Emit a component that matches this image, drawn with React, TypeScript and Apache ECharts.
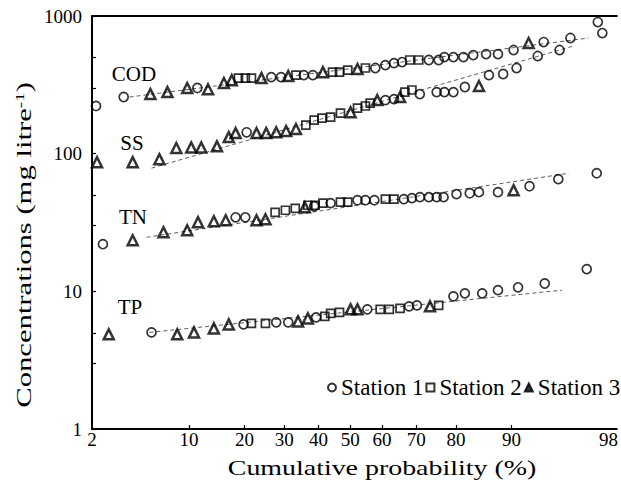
import React, { useEffect, useRef } from "react";
import * as echarts from "echarts";

// ---- axis definitions ----
const TICK_PROBS = [2, 10, 20, 30, 40, 50, 60, 70, 80, 90, 98];
const TICK_MARK_PROBS = [10, 20, 30, 40, 50, 60, 70, 80, 90];
const X_MIN_PCT = 2;
const X_MAX_PCT = 98.3;
const Y_LABELS = [1, 10, 100, 1000];
const Y_TICKS = [1, 3, 5, 10, 30, 50, 100, 300, 500, 1000];
const GROUP_NAMES = ["COD", "SS", "TN", "TP"];
const STATIONS = ["Station 1", "Station 2", "Station 3"];

// ---- data: [cumulative probability %, concentration mg/l] ----
const COD_S1 = [[2.16, 222], [3.58, 258], [11.2, 300], [26.5, 360], [29.1, 360], [35.6, 372], [38.3, 372], [57.9, 419], [61.0, 440], [63.6, 455], [66.0, 463], [73.4, 479], [75.9, 479], [77.3, 503], [79.4, 503], [81.6, 503], [83.6, 520], [86.0, 529], [88.0, 529], [90.3, 566], [93.8, 647], [96.0, 692], [97.55, 904]];
const COD_S2 = [[18.7, 354], [20.2, 354], [21.6, 354], [33.3, 372], [44.4, 391], [46.6, 391], [49.2, 405], [54.8, 419], [68.2, 479], [70.7, 479]];
const COD_S3 = [[5.6, 271], [7.3, 280], [9.74, 300], [12.9, 294], [15.75, 326], [17.3, 342], [24.0, 354], [31.1, 366], [41.4, 391], [52.3, 412], [92.2, 636]];

const SS_S1 = [[20.5, 143], [61.0, 245], [63.6, 249], [71.0, 271], [75.4, 280], [77.3, 280], [79.4, 280], [81.9, 305], [86.5, 372], [88.8, 379], [90.7, 419], [93.2, 512], [95.2, 566], [97.75, 752]];
const SS_S2 = [[36.2, 161], [38.7, 175], [41.1, 181], [43.8, 184], [46.9, 197], [52.3, 214], [54.8, 222], [56.3, 233], [66.8, 280], [68.8, 290]];
const SS_S3 = [[2.2, 86.8], [4.18, 86.8], [6.45, 91.2], [8.33, 110], [10.3, 111], [11.8, 111], [14.45, 113], [16.7, 132], [18.1, 141], [22.8, 141], [25.2, 141], [27.8, 143], [30.5, 146], [33.3, 151], [50.1, 200], [58.5, 245], [65.4, 258], [84.7, 310]];

const TN_S1 = [[2.46, 22.0], [18.1, 34.5], [20.2, 34.5], [38.7, 41.5], [43.8, 43.7], [52.3, 45.9], [54.8, 45.9], [57.6, 45.9], [66.5, 46.7], [68.8, 47.5], [71.0, 48.3], [73.4, 48.3], [75.4, 48.3], [77.1, 48.3], [80.1, 50.8], [82.9, 51.6], [84.7, 52.5], [88.0, 52.5], [92.3, 58.0], [95.1, 65.3], [97.5, 72.1]];
const TN_S2 = [[27.5, 37.5], [30.3, 38.8], [33.1, 40.1], [36.8, 42.2], [39.0, 42.2], [41.4, 43.7], [46.9, 44.4], [49.2, 44.4], [61.0, 46.7], [63.6, 46.7]];
const TN_S3 = [[4.18, 23.5], [6.87, 26.9], [9.74, 27.8], [11.3, 31.8], [13.9, 32.3], [16.1, 32.8], [22.8, 32.8], [25.0, 33.4], [35.9, 40.8], [90.3, 54.3]];

const TP_S1 = [[5.7, 5.03], [19.8, 5.75], [27.8, 5.95], [31.1, 5.95], [39.3, 6.47], [55.4, 7.4], [68.0, 7.78], [70.2, 7.91], [79.4, 9.2], [81.9, 9.67], [85.3, 9.67], [88.0, 10.2], [90.9, 10.7], [93.9, 11.4], [97.0, 14.5]];
const TP_S2 = [[21.6, 5.85], [25.0, 5.85], [42.0, 6.58], [43.8, 6.92], [46.6, 7.04], [59.4, 7.4], [62.2, 7.4], [65.4, 7.52], [75.9, 7.91]];
const TP_S3 = [[2.74, 4.87], [8.44, 4.87], [10.7, 5.03], [13.9, 5.38], [16.7, 5.75], [33.9, 6.05], [36.8, 6.36], [50.1, 7.4], [52.3, 7.4], [73.7, 7.78]];

// fitted (log-normal) lines
const COD_FIT = [[3.96, 258], [97.1, 692]];
const SS_FIT = [[5.7, 78.5], [96.2, 605]];
const TN_FIT = [[5.26, 24.7], [95.9, 72.1]];
const TP_FIT = [[5.51, 5.03], [95.4, 10.2]];

// inverse standard normal CDF (Acklam)
function probit(p: number): number {
  const a = [-39.69683028665376, 220.9460984245205, -275.9285104469687, 138.357751867269, -30.66479806614716, 2.506628277459239];
  const b = [-54.47609879822406, 161.5858368580409, -155.6989798598866, 66.80131188771972, -13.28068155288572];
  const c = [-0.007784894002430293, -0.3223964580411365, -2.400758277161838, -2.549732539343734, 4.374664141464968, 2.938163982698783];
  const d = [0.007784695709041462, 0.3224671290700398, 2.445134137142996, 3.754408661907416];
  const plow = 0.02425;
  const phigh = 1 - plow;
  if (p < plow) {
    const q = Math.sqrt(-2 * Math.log(p));
    return (((((c[0] * q + c[1]) * q + c[2]) * q + c[3]) * q + c[4]) * q + c[5]) / ((((d[0] * q + d[1]) * q + d[2]) * q + d[3]) * q + 1);
  }
  if (p <= phigh) {
    const q = p - 0.5;
    const r = q * q;
    return ((((((a[0] * r + a[1]) * r + a[2]) * r + a[3]) * r + a[4]) * r + a[5]) * q) / (((((b[0] * r + b[1]) * r + b[2]) * r + b[3]) * r + b[4]) * r + 1);
  }
  const q = Math.sqrt(-2 * Math.log(1 - p));
  return -(((((c[0] * q + c[1]) * q + c[2]) * q + c[3]) * q + c[4]) * q + c[5]) / ((((d[0] * q + d[1]) * q + d[2]) * q + d[3]) * q + 1);
}

const toZ = (pct: number) => probit(pct / 100);
const mk = (arr: number[][]) => arr.map(([p, v]) => [toZ(p), v]);

const SERIF = "Liberation Serif";

function buildOption() {
  const tickZ = TICK_PROBS.map(toZ);
  const labelFor = (val: number) => {
    let best = 0;
    let bd = Infinity;
    tickZ.forEach((z, i) => {
      const dd = Math.abs(z - val);
      if (dd < bd) { bd = dd; best = i; }
    });
    return String(TICK_PROBS[best]);
  };
  const open = "rgba(255,255,255,0)";
  const fitStyle = { color: "#333", width: 0.8, type: [4, 3] as any };
  const fits = [COD_FIT, SS_FIT, TN_FIT, TP_FIT].map((f, i) => ({
    name: GROUP_NAMES[i] + " fit",
    type: "line",
    data: mk(f),
    symbol: "none",
    silent: true,
    lineStyle: fitStyle,
    z: 2,
  }));
  const groupLabelPos: [number, number][] = [[134, 74], [132, 143], [133, 217], [130, 307]];
  const legendText = { fontFamily: SERIF, fontSize: 23, color: "#000", fontWeight: "normal" };
  return {
    animation: false,
    backgroundColor: "#fff",
    grid: { left: 92, top: 16, right: 0, bottom: 54, containLabel: false },
    legend: {
      data: [
        { name: STATIONS[0], textStyle: legendText },
        { name: STATIONS[1], textStyle: legendText },
        { name: STATIONS[2], itemStyle: { color: "#000" }, textStyle: legendText },
      ],
      left: 327,
      top: 376,
      padding: 0,
      itemGap: 2,
      itemWidth: 8,
      itemHeight: 8,
      textStyle: legendText,
    },
    xAxis: [
      {
        type: "value",
        min: toZ(X_MIN_PCT),
        max: toZ(X_MAX_PCT),
        axisLine: { show: true, onZero: false, lineStyle: { color: "#000", width: 2 } },
        axisTick: { show: true, inside: true, length: 4, customValues: TICK_MARK_PROBS.map(toZ), lineStyle: { color: "#000", width: 1.2 } },
        axisLabel: {
          show: true,
          customValues: tickZ,
          formatter: (v: number) => labelFor(v),
          margin: 1,
          color: "#000",
          fontFamily: SERIF,
          fontSize: 19,
          showMinLabel: true,
          showMaxLabel: true,
        },
        splitLine: { show: false },
      },
      {
        type: "value",
        position: "top",
        min: toZ(X_MIN_PCT),
        max: toZ(X_MAX_PCT),
        axisLine: { show: true, onZero: false, lineStyle: { color: "#000", width: 2 } },
        axisTick: { show: false },
        axisLabel: { show: false },
        splitLine: { show: false },
      },
    ],
    yAxis: {
      type: "log",
      logBase: 10,
      min: 1,
      max: 1000,
      axisLine: { show: true, onZero: false, lineStyle: { color: "#000", width: 2 } },
      axisTick: { show: true, inside: true, length: 4, customValues: Y_TICKS, lineStyle: { color: "#000", width: 1.2 } },
      axisLabel: {
        customValues: Y_LABELS,
        formatter: (v: number) => String(Math.round(v)),
        margin: 10,
        color: "#000",
        fontFamily: SERIF,
        fontSize: 19,
        padding: [8, 0, 0, 0],
      },
      splitLine: { show: false },
      minorTick: { show: false },
    },
    graphic: [
      ...GROUP_NAMES.map((g, i) => ({
        type: "text",
        x: groupLabelPos[i][0],
        y: groupLabelPos[i][1],
        silent: true,
        style: {
          text: g,
          fontFamily: SERIF,
          fontSize: 21,
          fill: "#000",
          align: "center",
          verticalAlign: "middle",
          textAlign: "center",
          textVerticalAlign: "middle",
        },
      })),
      {
        type: "text",
        x: 382,
        y: 468,
        scaleX: 1.33,
        silent: true,
        style: {
          text: "Cumulative probability (%)",
          fontFamily: SERIF,
          fontSize: 21,
          fill: "#000",
          align: "center",
          verticalAlign: "middle",
          textAlign: "center",
          textVerticalAlign: "middle",
        },
      },
      {
        type: "text",
        x: 24,
        y: 245,
        rotation: Math.PI / 2,
        scaleX: 1.46,
        silent: true,
        style: {
          text: "{a|Concentrations (mg litre}{s|-1}{a|)}",
          fontFamily: SERIF,
          fontSize: 21,
          fill: "#000",
          align: "center",
          verticalAlign: "middle",
          textAlign: "center",
          textVerticalAlign: "middle",
          rich: {
            a: { fontFamily: SERIF, fontSize: 21, lineHeight: 22, fill: "#000", color: "#000" },
            s: { fontFamily: SERIF, fontSize: 13, verticalAlign: "top", fill: "#000", color: "#000" },
          },
        },
      },
    ],
    series: [
      {
        name: STATIONS[0],
        type: "scatter",
        symbol: "circle",
        symbolSize: 9,
        itemStyle: { color: open, borderColor: "#000", borderWidth: 1.7 },
        data: mk([...COD_S1, ...SS_S1, ...TN_S1, ...TP_S1]),
        z: 3,
      },
      {
        name: STATIONS[1],
        type: "scatter",
        symbol: "rect",
        symbolSize: 8,
        itemStyle: { color: open, borderColor: "#000", borderWidth: 1.7 },
        data: mk([...COD_S2, ...SS_S2, ...TN_S2, ...TP_S2]),
        z: 3,
      },
      {
        name: STATIONS[2],
        type: "scatter",
        symbol: "triangle",
        symbolSize: 10,
        itemStyle: { color: open, borderColor: "#000", borderWidth: 2.5 },
        data: mk([...COD_S3, ...SS_S3, ...TN_S3, ...TP_S3]),
        z: 3,
      },
      ...fits,
    ],
  };
}

export default function App() {
  const ref = useRef<HTMLDivElement>(null);
  useEffect(() => {
    if (!ref.current) return;
    const chart = echarts.init(ref.current, null, { renderer: "svg" });
    chart.setOption(buildOption() as any);
    return () => chart.dispose();
  }, []);
  return (
    <div
      ref={ref}
      style={{ position: "fixed", left: 0, top: 0, width: 621, height: 483, background: "#fff" }}
    />
  );
}
